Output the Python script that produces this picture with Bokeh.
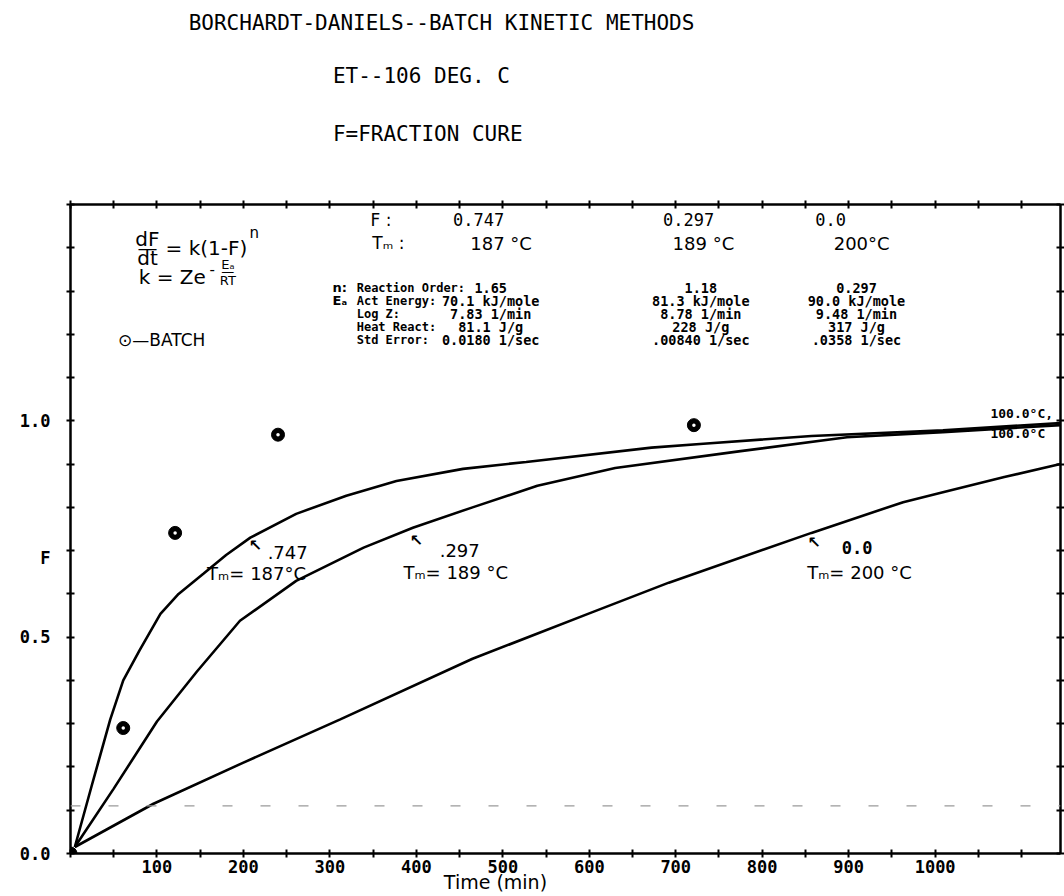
from bokeh.plotting import figure
from bokeh.models import Range1d, LinearAxis, FixedTicker, Label, Span, PrintfTickFormatter
from bokeh.layouts import column
from bokeh.embed import file_html
from bokeh.resources import INLINE

# ---------------- data ----------------
# curve for F = 0.747 (Tm = 187 C)
curve_a_t = [5, 25, 46, 61, 80, 104, 125, 154, 180, 208, 261, 319, 377, 454, 527, 672, 732, 857, 1009, 1145]
curve_a_f = [0.015, 0.16, 0.31, 0.40, 0.47, 0.554, 0.60, 0.647, 0.69, 0.73, 0.785, 0.827, 0.861, 0.889, 0.905,
             0.938, 0.947, 0.965, 0.978, 0.995]
# curve for F = 0.297 (Tm = 189 C)
curve_b_t = [5, 50, 100, 146, 196, 261, 339, 396, 465, 540, 630, 775, 898, 1009, 1145]
curve_b_f = [0.015, 0.15, 0.305, 0.42, 0.538, 0.63, 0.707, 0.753, 0.80, 0.85, 0.891, 0.93, 0.962, 0.974, 0.99]
# curve for F = 0.0 (Tm = 200 C)
curve_c_t = [5, 96, 200, 312, 465, 600, 692, 857, 963, 1009, 1080, 1145]
curve_c_f = [0.015, 0.115, 0.21, 0.31, 0.45, 0.555, 0.626, 0.741, 0.812, 0.835, 0.87, 0.90]
# batch measurements
batch_t = [0, 61, 121, 240, 721]
batch_f = [0.0, 0.29, 0.741, 0.968, 0.99]
baseline_f = 0.11

# tick values
x_major = [100, 200, 300, 400, 500, 600, 700, 800, 900, 1000]
x_minor = [i * 50 for i in range(0, 23)]
y_minor = [round(i * 0.1, 1) for i in range(0, 16)]
y_labels = {0.0: "0.0", 0.5: "0.5", 0.684: "F", 1.0: "1.0"}
x_title_pos = 491.5
x_title = "Time (min)"

# texts
title_lines = ["BORCHARDT-DANIELS--BATCH  KINETIC METHODS", "ET--106 DEG. C", "F=FRACTION CURE"]
col_f = ["0.747", "0.297", "0.0"]
col_tm = ["187 °C", "189 °C", "200°C"]
row_names = ["Reaction Order:", "Act Energy:", "Log Z:", "Heat React:", "Std Error:"]
reaction_order = ["1.65", "1.18", "0.297"]
act_energy = ["70.1 kJ/mole", "81.3 kJ/mole", "90.0 kJ/mole"]
log_z = ["7.83 1/min", "8.78 1/min", "9.48 1/min"]
heat_react = ["81.1 J/g", "228 J/g", "317 J/g"]
std_error = ["0.0180 1/sec", ".00840 1/sec", ".0358 1/sec"]
curve_tags = [".747", ".297", "0.0"]
curve_tm = ["Tₘ= 187°C", "Tₘ= 189 °C", "Tₘ= 200 °C"]
end_labels = ["100.0°C,", "100.0°C"]

MONO = "DejaVu Sans Mono"
HAND = "DejaVu Sans"
W = 1064
HEAD_H = 180

# ---------------- heading strip ----------------
head = figure(width=W, height=HEAD_H, output_backend="svg", toolbar_location=None,
              x_range=Range1d(0, W), y_range=Range1d(HEAD_H, 0),
              x_axis_location=None, y_axis_location=None, min_border=0,
              min_border_left=0, min_border_right=0, min_border_top=0, min_border_bottom=0,
              background_fill_color="white", border_fill_color="white")
head.grid.visible = False
head.outline_line_color = None
head_pos = [(127, 22), (282, 75), (282, 133)]
for (hx, hy), txt in zip(head_pos, title_lines):
    head.add_layout(Label(x=hx, y=hy, text=txt, text_font=MONO, text_font_size="21px",
                          text_color="black", text_align="left", text_baseline="middle"))

# ---------------- main plot ----------------
p = figure(width=W, height=896 - HEAD_H, output_backend="svg", toolbar_location=None,
           x_range=Range1d(0, 1145), y_range=Range1d(0, 1.5),
           x_axis_location=None, y_axis_location=None,
           min_border_left=70, min_border_right=0, min_border_top=24, min_border_bottom=43,
           background_fill_color="white", border_fill_color="white")
p.grid.visible = False
p.outline_line_color = None


def style_axis(ax):
    ax.axis_line_width = 2.5
    ax.axis_line_color = "black"
    ax.major_tick_line_color = None
    ax.major_tick_in = 0
    ax.major_tick_out = 0
    ax.minor_tick_line_width = 2
    ax.minor_tick_line_color = "black"
    ax.minor_tick_in = 4
    ax.minor_tick_out = 4
    ax.major_label_text_font = MONO
    ax.major_label_text_font_style = "bold"
    ax.major_label_text_font_size = "17px"
    ax.major_label_text_color = "black"


xb = LinearAxis(ticker=FixedTicker(ticks=x_major, minor_ticks=x_minor),
                formatter=PrintfTickFormatter(format="%d"))
style_axis(xb)
xb.major_label_standoff = 2
p.add_layout(xb, "below")

# second row below the x axis carrying the axis title
xb2 = LinearAxis(ticker=FixedTicker(ticks=[x_title_pos], minor_ticks=[]),
                 major_label_overrides={x_title_pos: x_title})
xb2.axis_line_color = None
xb2.major_tick_line_color = None
xb2.major_tick_in = 0
xb2.major_tick_out = 0
xb2.major_label_standoff = -5
xb2.major_label_text_font = HAND
xb2.major_label_text_font_size = "19px"
xb2.major_label_text_color = "black"
p.add_layout(xb2, "below")

yl = LinearAxis(ticker=FixedTicker(ticks=list(y_labels.keys()), minor_ticks=y_minor),
                major_label_overrides=y_labels)
style_axis(yl)
yl.major_label_standoff = 16
p.add_layout(yl, "left")

xt = LinearAxis(ticker=FixedTicker(ticks=[], minor_ticks=x_minor))
style_axis(xt)
xt.major_label_standoff = 0
p.add_layout(xt, "above")

yr = LinearAxis(ticker=FixedTicker(ticks=[], minor_ticks=y_minor))
style_axis(yr)
yr.major_label_standoff = 0
p.add_layout(yr, "right")

# faint dashed baseline
p.add_layout(Span(location=baseline_f, dimension="width", line_color="#9a9a9a",
                  line_dash="10 28", line_width=1.2))

# curves
for ct, cf in [(curve_a_t, curve_a_f), (curve_b_t, curve_b_f), (curve_c_t, curve_c_f)]:
    p.line(ct, cf, line_color="black", line_width=2.6)

# batch points
p.scatter(batch_t, batch_f, marker="circle", size=13, fill_color="black", line_color="black")
p.scatter(batch_t, batch_f, marker="circle", size=3.5, fill_color="white", line_color=None)


def lab(x, y, text, size, font=HAND, bold=False, align="left", baseline="middle"):
    p.add_layout(Label(x=x, y=y, text=text, text_font=font, text_font_size=f"{size}px",
                       text_font_style="bold" if bold else "normal", text_color="black",
                       text_align=align, text_baseline=baseline))


# formula
lab(89, 1.421, "dF", 20, align="center")
lab(89, 1.400, "—", 20, align="center")
lab(89, 1.377, "dt", 20, align="center")
lab(110, 1.400, "= k(1-F)", 20)
lab(207, 1.435, "n", 15)
lab(79, 1.333, "k = Ze", 20)
lab(164, 1.350, "-", 15, align="center")
lab(182, 1.362, "Eₐ", 13, align="center")
lab(182, 1.345, "—", 13, align="center")
lab(182, 1.324, "RT", 13, align="center")

# legend
lab(55, 1.186, "⊙—BATCH", 17)

# table header
lab(347, 1.465, "F :", 17)
lab(349, 1.410, "Tₘ :", 17)
col_x = [472, 715, 879]
col_tm_x = [498, 732, 915]
for i in range(3):
    lab(col_x[i], 1.465, col_f[i], 17, font=MONO, align="center")
    lab(col_tm_x[i], 1.410, col_tm[i], 18, align="center")

# table rows
row_y = [1.308, 1.278, 1.248, 1.216, 1.186]
lab(303, row_y[0], "n:", 13, bold=True)
lab(303, row_y[1], "Eₐ", 13, bold=True)
for name, ry in zip(row_names, row_y):
    lab(331, ry, name, 12, font=MONO, bold=True)
val_x = [486, 729, 909]
for vals, ry in zip([reaction_order, act_energy, log_z, heat_react, std_error], row_y):
    for i in range(3):
        lab(val_x[i], ry, vals[i], 13.5, font=MONO, bold=True, align="center")

# curve annotations
arrow_pos = [(214, 0.712), (400, 0.723), (860, 0.719)]
tag_pos = [(228, 0.696), (427, 0.700), (892, 0.707)]
tm_pos = [(158, 0.647), (385, 0.649), (852, 0.649)]
for i in range(3):
    lab(arrow_pos[i][0], arrow_pos[i][1], "↖", 16, bold=True, align="center")
    lab(tag_pos[i][0], tag_pos[i][1], curve_tags[i], 17 if i == 2 else 18,
        font=MONO if i == 2 else HAND, bold=(i == 2))
    lab(tm_pos[i][0], tm_pos[i][1], curve_tm[i], 18)

# right-end labels
lab(1064, 1.017, end_labels[0], 13, font=MONO, bold=True)
lab(1064, 0.971, end_labels[1], 13, font=MONO, bold=True)

open("out.html", "w").write(file_html(column(head, p, spacing=0), INLINE))
